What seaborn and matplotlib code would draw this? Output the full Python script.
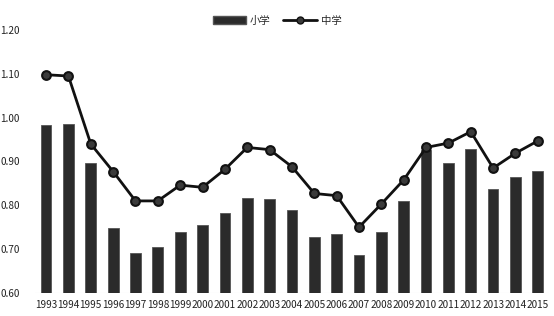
import matplotlib
matplotlib.use("Agg")
import matplotlib.pyplot as plt
import seaborn as sns
import pandas as pd
from matplotlib.lines import Line2D
from matplotlib.patches import Patch

years = [str(y) for y in range(1993, 2016)]
primary = [0.983, 0.986, 0.896, 0.749, 0.690, 0.704, 0.739, 0.756, 0.783, 0.817,
           0.815, 0.790, 0.728, 0.735, 0.687, 0.740, 0.810, 0.927, 0.897, 0.929,
           0.837, 0.865, 0.879]
middle = [1.098, 1.095, 0.940, 0.877, 0.810, 0.810, 0.846, 0.841, 0.882, 0.932,
          0.927, 0.888, 0.827, 0.822, 0.750, 0.803, 0.858, 0.932, 0.942, 0.968,
          0.885, 0.919, 0.947]
yticks = [0.60, 0.70, 0.80, 0.90, 1.00, 1.10, 1.20]
series_names = ["小学", "中学"]

df = pd.DataFrame({"year": years, "primary": primary, "middle": middle})

sns.set_theme(style="white")
plt.rcParams["font.family"] = ["Noto Sans CJK SC", "DejaVu Sans"]

fig = plt.figure(figsize=(5.54, 3.16), dpi=100)
ax = fig.add_axes([0.063, 0.073, 0.928, 0.832])

sns.barplot(data=df, x="year", y="primary", color="#2b2b2b", width=0.48,
            edgecolor="#555555", linewidth=0.6, saturation=1, ax=ax)
sns.pointplot(data=df, x="year", y="middle", color="#111111", markers="o",
              markersize=6.3, linewidth=2.0, ax=ax)
for line in ax.lines:
    line.set_markerfacecolor("#3a3a3a")
    line.set_markeredgecolor("#111111")

ax.set_ylim(0.60, 1.20)
ax.set_xlim(-0.5, len(years) - 0.5)
ax.set_yticks(yticks)
ax.set_yticklabels([f"{v:.2f}" for v in yticks])
ax.set_xlabel("")
ax.set_ylabel("")
for s in ax.spines.values():
    s.set_visible(False)
ax.axhline(0.60, color="#dddddd", linewidth=0.8, zorder=0)
ax.tick_params(axis="both", length=0, labelsize=7.2, colors="#222222")
ax.tick_params(axis="x", pad=5)
ax.tick_params(axis="y", pad=11)

handles = [Patch(facecolor="#2b2b2b", edgecolor="#555555"),
           Line2D([0], [0], color="#111111", linewidth=2.0, marker="o",
                  markersize=5, markerfacecolor="#3a3a3a", markeredgecolor="#111111")]
fig.legend(handles, series_names, loc="center", bbox_to_anchor=(0.5, 0.935),
           ncol=2, frameon=False, fontsize=7.5, handlelength=3.2,
           columnspacing=1.2, handletextpad=0.4)

fig.savefig("out.png", dpi=100)
